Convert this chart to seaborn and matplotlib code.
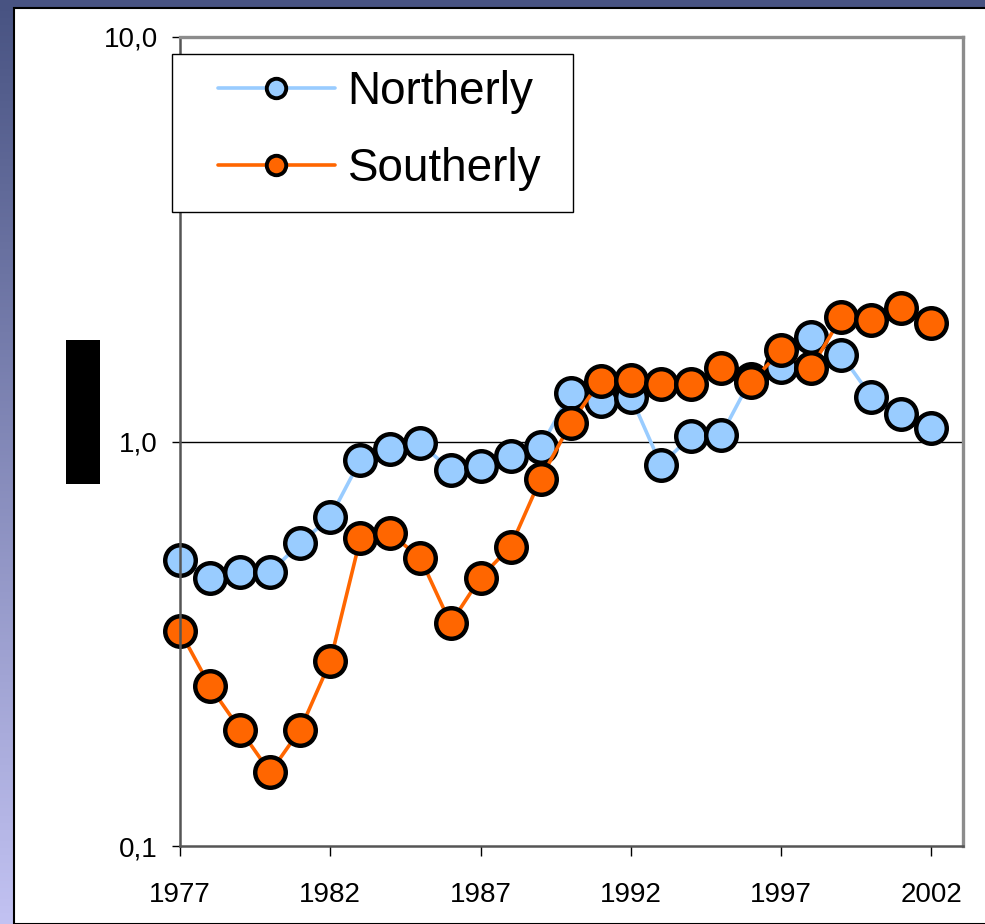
import numpy as np
import pandas as pd
import matplotlib
matplotlib.use("Agg")
import matplotlib.pyplot as plt
import seaborn as sns
from matplotlib.patches import Rectangle
from matplotlib.ticker import FixedLocator, FixedFormatter, NullLocator

# data
years = list(range(1977, 2003))
northerly = [0.51, 0.46, 0.475, 0.475, 0.56, 0.65, 0.90, 0.96, 0.99, 0.85, 0.87, 0.92, 0.97,
             1.32, 1.26, 1.29, 0.875, 1.03, 1.035, 1.43, 1.53, 1.81, 1.64, 1.29, 1.17, 1.08]
southerly = [0.34, 0.248, 0.194, 0.152, 0.194, 0.286, 0.576, 0.593, 0.514, 0.355, 0.461, 0.55, 0.81,
             1.11, 1.415, 1.42, 1.385, 1.385, 1.52, 1.40, 1.68, 1.52, 2.03, 2.00, 2.14, 1.96]
series_names = ["Northerly", "Southerly"]
colors = {"Northerly": "#99CCFF", "Southerly": "#FF6600"}
ytick_vals = [0.1, 1, 10]
ytick_labels = ["0,1", "1,0", "10,0"]
xtick_vals = list(range(1977, 2003, 5))

frame = pd.DataFrame({"year": years * 2,
                      "value": northerly + southerly,
                      "series": ["Northerly"] * len(years) + ["Southerly"] * len(years)})

sns.set_theme(style="white")
plt.rcParams["font.family"] = ["Liberation Sans", "DejaVu Sans"]
plt.rcParams["text.color"] = "black"

W, H = 985, 924
fig = plt.figure(figsize=(W / 100, H / 100), dpi=100)

# slide-like background: gradient strips with a white panel
bg = fig.add_axes([0, 0, 1, 1], zorder=-10)
grad = np.linspace(0, 1, 256).reshape(-1, 1)
top_c = np.array([72, 83, 130]) / 255
bot_c = np.array([194, 194, 242]) / 255
img = top_c[None, None, :] * (1 - grad[:, :, None]) + bot_c[None, None, :] * grad[:, :, None]
bg.imshow(img, aspect="auto", extent=[0, 1, 0, 1])
bg.set_xlim(0, 1)
bg.set_ylim(0, 1)
bg.axis("off")
bg.add_patch(Rectangle((13.5 / W, 0), 1, 1 - 7.5 / H, facecolor="white",
                       edgecolor="black", linewidth=1.5))
# redacted label block
bg.add_patch(Rectangle((66 / W, 1 - 484 / H), 34 / W, 144 / H, facecolor="black",
                       edgecolor="none"))

ax = fig.add_axes([180 / W, 1 - 846 / H, (963 - 180) / W, (846 - 37) / H])
sns.lineplot(data=frame, x="year", y="value", hue="series", palette=colors,
             marker="o", markersize=22, markeredgecolor="black", markeredgewidth=3.2,
             linewidth=2.6, ax=ax, legend=False)

ax.set_yscale("log")
ax.set_ylim(0.1, 10)
ax.set_xlim(1977, 2003.05)
ax.yaxis.set_major_locator(FixedLocator(ytick_vals))
ax.yaxis.set_major_formatter(FixedFormatter(ytick_labels))
ax.yaxis.set_minor_locator(NullLocator())
ax.set_xticks(xtick_vals)
ax.set_xticklabels([str(y) for y in xtick_vals])
ax.set_xlabel("")
ax.set_ylabel("")
ax.tick_params(axis="y", direction="out", length=6, width=1, color="black",
               labelcolor="black", labelsize=20, pad=10, left=True)
ax.tick_params(axis="x", direction="out", length=7, width=1, color="black",
               labelcolor="black", labelsize=20, pad=19, bottom=True)
ax.axhline(1, color="black", linewidth=1, zorder=0.5)
for s in ax.spines.values():
    s.set_color("#8c8c8c")
    s.set_linewidth(2.4)
ax.spines["left"].set_color("#555555")
ax.spines["bottom"].set_color("#555555")
ax.spines["left"].set_linewidth(1.8)
ax.spines["bottom"].set_linewidth(1.8)
for line in ax.lines:
    line.set_clip_on(False)

# legend box drawn separately so the inner padding can match
fig.add_artist(Rectangle((172 / W, 1 - 212 / H), (573 - 172) / W, (212 - 54) / H,
                         facecolor="white", edgecolor="black", linewidth=1, zorder=20,
                         transform=fig.transFigure))
handles = [plt.Line2D([], [], color=colors[n], marker="o", markersize=14,
                      markerfacecolor=colors[n], markeredgecolor="black",
                      markeredgewidth=2.8, linewidth=2.6) for n in series_names]
leg = fig.legend(handles, series_names, loc="upper left",
                 bbox_to_anchor=(218 / W, 1 - 70 / H), fontsize=33,
                 frameon=False, handlelength=2.55, handletextpad=0.28,
                 labelspacing=0.73, borderpad=0, borderaxespad=0)
leg.set_zorder(30)

fig.savefig("out.png", dpi=100)
